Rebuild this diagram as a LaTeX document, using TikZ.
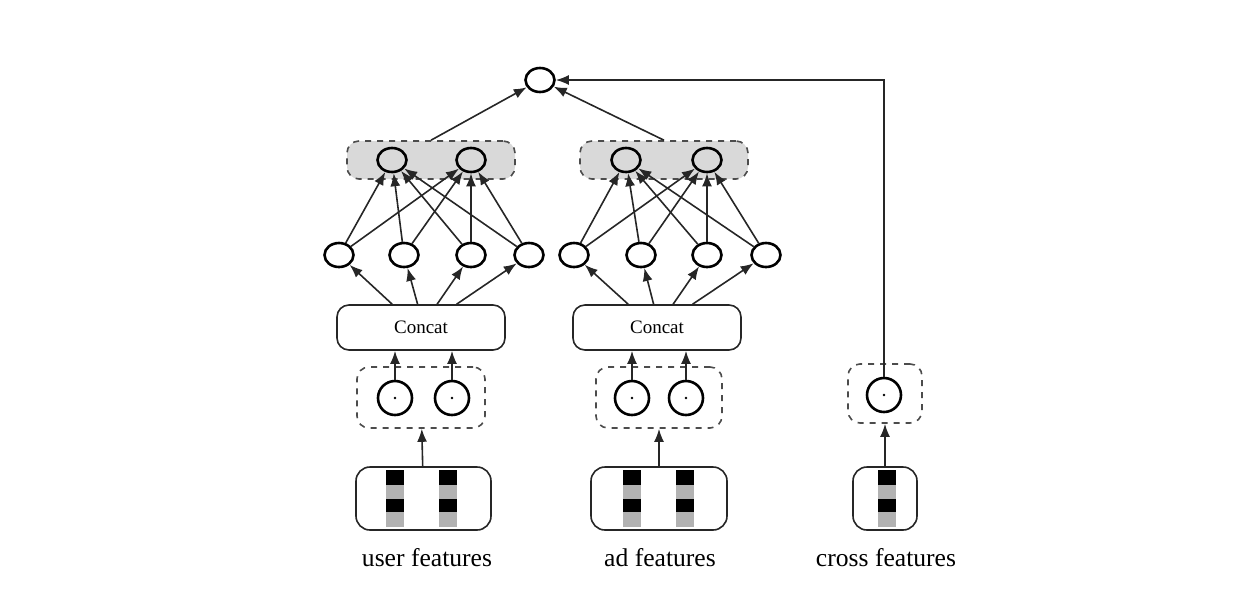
\documentclass[tikz,border=0pt]{standalone}
\usepackage{fontspec}
\setmainfont{Liberation Serif}
\usetikzlibrary{calc,shapes.geometric,arrows.meta}

% one-hot column inside a feature box
\newcommand{\onehot}[1]{%
	\fill[black]   (#1-9,470) rectangle (#1+9,485);
	\fill[black!30] (#1-9,485) rectangle (#1+9,499);
	\fill[black]   (#1-9,499) rectangle (#1+9,512);
	\fill[black!30] (#1-9,512) rectangle (#1+9,527);
}

\begin{document}
\begin{tikzpicture}[
x=0.5pt, y=-0.5pt,
neuron/.style={
	ellipse, draw, line width=1.3pt,
	minimum width=14.5pt, minimum height=12pt, inner sep=0pt
},
embed/.style={
	circle, draw, line width=1.3pt,
	minimum size=17pt, inner sep=0pt,
	path picture={\fill (path picture bounding box.center) circle (0.7pt);}
},
group/.style={
	draw=black!70, dashed, line width=0.8pt,
	rounded corners=6pt, inner sep=0pt
},
concat/.style={
	draw=black!85, line width=0.8pt, rounded corners=6pt,
	minimum width=84pt, minimum height=22.5pt, font=\fontsize{9.5}{11}\selectfont
},
featbox/.style={
	draw=black!85, line width=0.8pt, rounded corners=7pt, fill=white,
	minimum height=31.5pt, inner sep=0pt
},
label/.style={font=\fontsize{12.8}{15}\selectfont},
>={Latex[length=6.5pt,width=5pt]},
edge/.style={->, draw=black!85, line width=0.8pt}
]
\useasboundingbox (0,0) rectangle (1237,612);

% groups
\node[group, fill=black!15, minimum width=84pt, minimum height=19pt] (ug) at (431,160) {};
\node[group, fill=black!15, minimum width=84pt, minimum height=19pt] (ag) at (664,160) {};
\node[group, minimum width=64pt, minimum height=30.5pt] (ue) at (421,397.5) {};
\node[group, minimum width=63pt, minimum height=30.5pt] (ae) at (659,397.5) {};
\node[group, minimum width=37pt, minimum height=29.5pt] (ce) at (885,393.5) {};

% output
\node[neuron] (out) at (540,80) {};

% top layer
\node[neuron] (ut1) at (392,160) {};
\node[neuron] (ut2) at (471,160) {};
\node[neuron] (at1) at (626,160) {};
\node[neuron] (at2) at (707,160) {};

% hidden layer
\node[neuron] (uh1) at (339,255) {};
\node[neuron] (uh2) at (404,255) {};
\node[neuron] (uh3) at (471,255) {};
\node[neuron] (uh4) at (529,255) {};
\node[neuron] (ah1) at (574,255) {};
\node[neuron] (ah2) at (641,255) {};
\node[neuron] (ah3) at (707,255) {};
\node[neuron] (ah4) at (766,255) {};

% concat
\node[concat] (uc) at (421,327.5) {Concat};
\node[concat] (ac) at (657,327.5) {Concat};

% embeddings
\node[embed] (ue1) at (395,398) {};
\node[embed] (ue2) at (452,398) {};
\node[embed] (ae1) at (632,398) {};
\node[embed] (ae2) at (686,398) {};
\node[embed] (ce1) at (884,395) {};

% feature boxes
\node[featbox, minimum width=67.5pt] (uf) at (423.5,498.5) {};
\node[featbox, minimum width=68pt] (af) at (659,498.5) {};
\node[featbox, minimum width=32pt] (cf) at (885,498.5) {};
\onehot{395} \onehot{448}
\onehot{632} \onehot{685}
\onehot{887}

% labels
\node[label] (ul) at (427,558) {user features};
\node[label] (al) at (660,558) {ad features};
\node[label] (cl) at (886,558) {cross features};

% connectors
\draw[edge] (uf) -- (ue);
\draw[edge] (af) -- (ae);
\draw[edge] (cf) -- (ce);
\foreach \t in {u,a}
{
	\draw[edge] (\t e1) -- (\t e1 |- \t c.south);
	\draw[edge] (\t e2) -- (\t e2 |- \t c.south);
	\foreach \i/\f in {1/.33,2/.48,3/.595,4/.71}
	{
		\draw[edge] ($(\t c.north west)!\f!(\t c.north east)$) -- (\t h\i);
		\foreach \j in {1,2}
			\draw[edge] (\t h\i) -- (\t t\j);
	}
	\draw[edge] (\t g.north) -- (out);
}
\draw[edge] (ce1) |- (out);
\end{tikzpicture}
\end{document}
